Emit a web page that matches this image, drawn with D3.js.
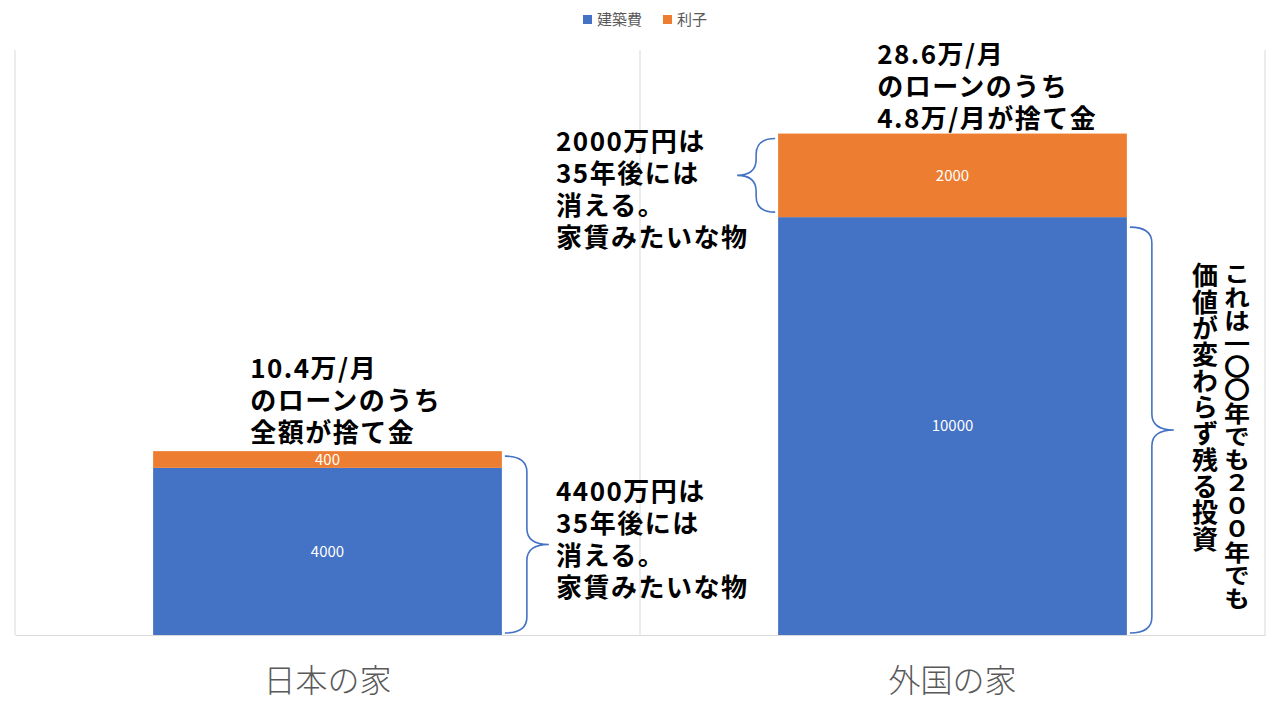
<!DOCTYPE html>
<html>
<head>
<meta charset="utf-8">
<script src="https://cdn.jsdelivr.net/npm/d3@7"></script>
<style>
  body { margin: 0; background: #fff; }
  svg text { font-family: "Noto Sans CJK JP", "Noto Sans", sans-serif; }
</style>
</head>
<body>
<div id="chart-area"></div>
<script>
// data
const categories = ["日本の家", "外国の家"];
const seriesNames = ["建築費", "利子"];
const buildCost = [4000, 10000];
const interest = [400, 2000];
const yMax = 14000;

// annotation texts
const topNotes = [
    ["10.4万/月", "のローンのうち", "全額が捨て金"],
    ["28.6万/月", "のローンのうち", "4.8万/月が捨て金"]
];
const sideNote1 = ["4400万円は", "35年後には", "消える。", "家賃みたいな物"];
const sideNote2 = ["2000万円は", "35年後には", "消える。", "家賃みたいな物"];
const vertNotes = ["これは一〇〇年でも２００年でも", "価値が変わらず残る投資"];

const colors = ["#4472C4", "#ED7D31"];

const margin = { left: 15, right: 15, top: 50, bottom: 85 };
const full_width = 1280, full_height = 720;
const width = full_width - margin.left - margin.right, height = full_height - margin.top - margin.bottom;

const svg = d3.select("#chart-area").append("svg").attr("width", full_width).attr("height", full_height);
const g = svg.append("g").attr("transform", "translate(" + margin.left + ", " + margin.top + ")");

const table = categories.map((c, i) => ({ cat: c, "建築費": buildCost[i], "利子": interest[i] }));
const stacked = d3.stack().keys(seriesNames)(table);

const x = d3.scaleBand().domain(categories).range([0, width]);
const xBar = d3.scaleBand().domain(categories).range([0, width]).paddingInner(0.442).paddingOuter(0.221);
const y = d3.scaleLinear().domain([0, yMax]).range([height, 0]);

// category separators
const edges = categories.map(c => x(c)).concat([width]);
g.selectAll("line.sep").data(edges).enter().append("line")
    .attr("class", "sep")
    .attr("x1", d => d).attr("x2", d => d)
    .attr("y1", 0).attr("y2", height)
    .attr("stroke", "#D9D9D9").attr("stroke-width", 1);

// bars
const layers = g.selectAll("g.layer").data(stacked).enter().append("g")
    .attr("class", "layer")
    .attr("fill", (d, i) => colors[i]);

layers.selectAll("rect").data(d => d).enter().append("rect")
    .attr("x", d => xBar(d.data.cat))
    .attr("width", xBar.bandwidth())
    .attr("y", d => y(d[1]))
    .attr("height", d => y(d[0]) - y(d[1]));

layers.selectAll("text").data(d => d).enter().append("text")
    .attr("x", d => xBar(d.data.cat) + xBar.bandwidth() / 2)
    .attr("y", d => (y(d[0]) + y(d[1])) / 2)
    .attr("dy", "0.35em")
    .attr("text-anchor", "middle")
    .attr("font-size", "15px")
    .attr("fill", "#fff")
    .text(d => d[1] - d[0]);

// x axis
const xAxisCall = d3.axisBottom(x).tickSize(0).tickPadding(34);
const xAxis = g.append("g")
    .attr("class", "x-axis")
    .attr("transform", "translate(0, " + height + ")")
    .call(xAxisCall);
xAxis.select(".domain").attr("stroke", "#D9D9D9");
xAxis.selectAll("text")
    .attr("font-size", "32px")
    .attr("font-weight", 300)
    .attr("fill", "#595959")
    .style("font-family", "'Noto Sans CJK JP', sans-serif");

// legend
const legend = svg.append("g").attr("transform", "translate(583, 20)");
const legX = [0, 80];
seriesNames.forEach((s, i) => {
    legend.append("rect").attr("x", legX[i]).attr("y", -5).attr("width", 9).attr("height", 9).attr("fill", colors[i]);
    legend.append("text").attr("x", legX[i] + 14).attr("y", 0).attr("dy", "0.35em")
        .attr("font-size", "15px").attr("fill", "#595959").text(s);
});

// brace path: vertical brace from y0 to y1 at x0, pointing dir (+1 right, -1 left)
function brace(x0, y0, y1, depth, dir) {
    const ym = (y0 + y1) / 2, h = depth / 2, r = 16;
    const xa = x0 + dir * h, xt = x0 + dir * depth;
    return "M" + x0 + "," + y0 +
        " Q" + xa + "," + y0 + " " + xa + "," + (y0 + r) +
        " L" + xa + "," + (ym - r) +
        " Q" + xa + "," + ym + " " + xt + "," + ym +
        " Q" + xa + "," + ym + " " + xa + "," + (ym + r) +
        " L" + xa + "," + (y1 - r) +
        " Q" + xa + "," + y1 + " " + x0 + "," + y1;
}

const bw = xBar.bandwidth();
const left1 = xBar(categories[0]), left2 = xBar(categories[1]);
const braceG = g.append("g").attr("fill", "none").attr("stroke", "#4472C4").attr("stroke-width", 1.6);
braceG.append("path").attr("d", brace(left1 + bw + 3, y(buildCost[0] + interest[0]) + 5, y(0) - 2, 44, 1));
braceG.append("path").attr("d", brace(left2 - 3, y(buildCost[1] + interest[1]) + 5, y(buildCost[1]) - 5, 38, -1));
braceG.append("path").attr("d", brace(left2 + bw + 3, y(buildCost[1]) + 10, y(0) - 2, 44, 1));

// annotation text
function block(lines, x0, baseFirst, step) {
    const t = g.append("text")
        .attr("font-size", "26px")
        .attr("font-weight", 700)
        .attr("fill", "#000")
        .attr("letter-spacing", "1.5px");
    lines.forEach((l, i) => {
        t.append("tspan").attr("x", x0).attr("y", baseFirst + i * step).text(l);
    });
}
const step = 32;
block(topNotes[0], left1 + 97, y(buildCost[0] + interest[0]) - 9 - 2 * step, step);
block(topNotes[1], left2 + 99, y(buildCost[1] + interest[1]) - 6 - 2 * step, step);
block(sideNote1, 541, y(buildCost[0] + interest[0]) + 50, step);
block(sideNote2, 541, y(buildCost[1] + interest[1]) + 17, step);

// vertical texts
const vx = [1222, 1190];
const vLen = [348, 290];
vertNotes.forEach((s, i) => {
    g.append("text")
        .attr("x", vx[i])
        .attr("y", 212)
        .attr("font-size", "26px")
        .attr("font-weight", 700)
        .attr("fill", "#000")
        .style("writing-mode", "vertical-rl")
        .style("text-orientation", "upright")
        .attr("textLength", vLen[i])
        .attr("lengthAdjust", "spacingAndGlyphs")
        .text(s);
});
</script>
</body>
</html>
